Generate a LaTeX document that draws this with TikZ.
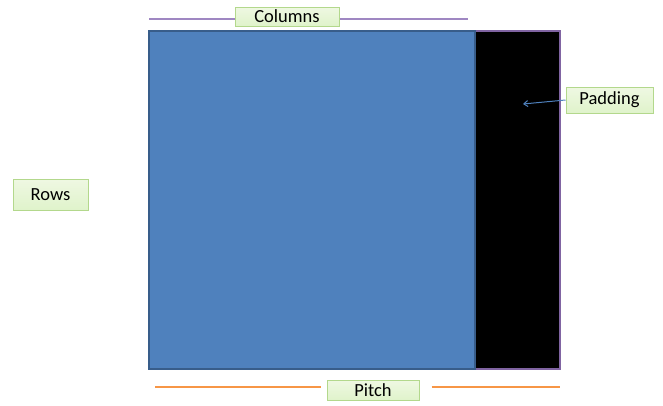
\documentclass[tikz,border=0pt]{standalone}
\usepackage{fontspec}
\setmainfont{Carlito}
\usetikzlibrary{arrows.meta}
\definecolor{blueF}{HTML}{4F81BD}
\definecolor{blueD}{HTML}{385D8A}
\definecolor{purp}{HTML}{8064A2}
\definecolor{lpurp}{HTML}{9F87C2}
\definecolor{orng}{HTML}{F79646}
\definecolor{gfill}{HTML}{E4F3CF}
\definecolor{gdraw}{HTML}{B3D88C}
\tikzset{
  lbl/.style={draw=gdraw, line width=1pt, top color=gfill!60!white, bottom color=gfill!90!green!20!gfill, inner sep=0pt, font=\fontsize{18.5}{21}\selectfont, text=black},
}
\begin{document}
\begin{tikzpicture}[x=1pt,y=-1pt]
\useasboundingbox (0,0) rectangle (663,405);
% black padding region
\filldraw[fill=black, draw=purp, line width=1.6pt] (475,31) rectangle (560,369);
% blue data region
\filldraw[fill=blueF, draw=blueD, line width=1.4pt] (149,31) rectangle (475,369);
% columns
\node[lbl, minimum width=104pt, minimum height=19pt] (cols) at (287,16.5) {Columns};
\coordinate (cl) at (149,19);
\coordinate (cr) at (468,19);
\draw[lpurp, line width=1.4pt] (cl) -- (cols.west |- cl);
\draw[lpurp, line width=1.4pt] (cols.east |- cr) -- (cr);
% rows
\node[lbl, minimum width=75pt, minimum height=31pt] (rows) at (50.5,194.5) {Rows};
% padding
\node[lbl, minimum width=87pt, minimum height=26pt] (pad) at (609.5,100) {Padding};
\coordinate (pt) at (523,104);
\draw[blueF, line width=1pt, -{Straight Barb[length=4pt,width=6pt]}] (pad.west) -- (pt);
% pitch
\node[lbl, minimum width=92pt, minimum height=20pt] (pitch) at (373,390) {Pitch};
\coordinate (pl) at (155,387);
\coordinate (pr) at (560,387);
\draw[orng, line width=1.4pt] (pl) -- ([xshift=-6pt]pitch.west |- pl);
\draw[orng, line width=1.4pt] ([xshift=12pt]pitch.east |- pr) -- (pr);
\end{tikzpicture}
\end{document}
